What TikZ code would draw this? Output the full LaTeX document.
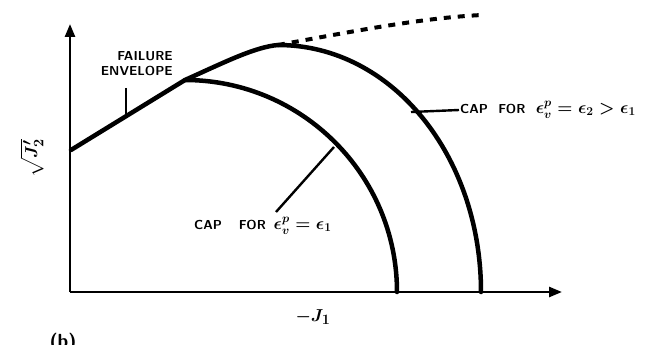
\documentclass[tikz,border=0pt]{standalone}
\usepackage{tikz}
\usetikzlibrary{arrows.meta,positioning}
\usepackage{amsmath,amssymb}
\definecolor{ink}{HTML}{000000}

\newcommand{\capmath}[1]{{\fontsize{18}{20}\selectfont$#1$}}

\tikzset{
  curve/.style={ink,line width=4.5pt,line cap=round,line join=round},
  axis/.style={ink,line width=2.6pt,-{Triangle[length=13pt,width=10pt]}},
  leader/.style={ink,line width=2.4pt},
  lbl/.style={font=\sffamily\bfseries\boldmath\fontsize{13}{15}\selectfont,inner sep=1pt},
  biglbl/.style={font=\sffamily\bfseries\boldmath\fontsize{19}{21}\selectfont,inner sep=1pt}
}

\begin{document}
\begin{tikzpicture}[x=1pt,y=-1pt]
  \useasboundingbox (0,0) rectangle (649,345);

  % axes
  \coordinate (orig) at (70,292);
  \coordinate (ytop) at (70,24);
  \coordinate (xend) at (562,292);
  \draw[axis] (orig) -- (ytop);
  \draw[axis] (orig) -- (xend);
  \node[biglbl,rotate=90] (ylab) at (32,158) {$\sqrt{J_2'}$};
  \node[biglbl] (xlab) at (313,317) {$-J_1$};
  \node[biglbl] (partb) at (63,343) {(b)};

  % failure envelope
  \coordinate (env0) at (71,150);
  \coordinate (capA) at (185,80);
  \coordinate (capB) at (278,45);
  \draw[curve] (env0) -- (capA) .. controls (225,62) and (255,47) .. (capB);
  \draw[ink,line width=4pt,dash pattern=on 7pt off 7pt] (capB) .. controls (350,32) and (420,18) .. (482,15);

  % caps
  \coordinate (endA) at (397,292);
  \coordinate (endB) at (481,292);
  \draw[curve] (capA) .. controls (302,80) and (397,175) .. (endA);
  \draw[curve] (capB) .. controls (392,45) and (481,156) .. (endB);

  % labels
  \node[lbl,align=right,anchor=north east] (fail) at (174,50) {FAILURE\\ENVELOPE};
  \coordinate (failpt) at (126,115);
  \draw[leader] (126,88) -- (failpt);

  \node[lbl,anchor=west] (capout) at (459,110) {CAP\hspace{0.8em}FOR\hspace{0.8em}\capmath{\epsilon_v^p = \epsilon_2 > \epsilon_1}};
  \coordinate (outpt) at (411,112);
  \draw[leader] (outpt) -- (capout.west);

  \node[lbl,anchor=west] (capin) at (193,226) {CAP\hspace{1.3em}FOR\hspace{0.6em}\capmath{\epsilon_v^p = \epsilon_1}};
  \coordinate (inpt) at (334,147);
  \coordinate (infoot) at (276,212);
  \draw[leader] (infoot) -- (inpt);
\end{tikzpicture}
\end{document}
